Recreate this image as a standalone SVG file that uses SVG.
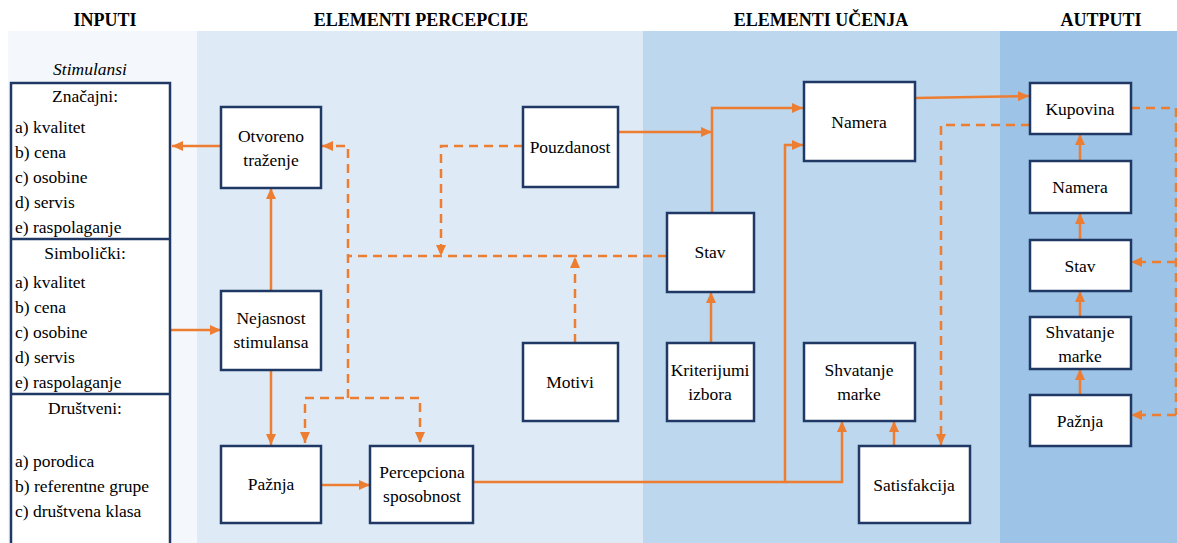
<svg xmlns="http://www.w3.org/2000/svg" width="1177" height="543" viewBox="0 0 1177 543">
  <defs>
    <marker id="arr" markerUnits="userSpaceOnUse" markerWidth="11" markerHeight="10" refX="11" refY="5" orient="auto-start-reverse">
      <path d="M0,0 L11,5 L0,10 z" fill="#ed7d31"/>
    </marker>
  </defs>
  <style>
    text { font-family: 'Liberation Serif', Tinos, 'Noto Serif', 'DejaVu Serif', serif; fill: #000; }
    .hdr { font-size: 18px; font-weight: bold; text-anchor: middle; }
    .lbl { font-size: 17.5px; text-anchor: middle; }
    .lst { font-size: 17.5px; }
    .box { fill: #fff; stroke: #1f3864; stroke-width: 2.5; }
    .ln { fill: none; stroke: #ed7d31; stroke-width: 2.5; }
    .dash { fill: none; stroke: #ed7d31; stroke-width: 2.5; stroke-dasharray: 9 6; }
    .arr { marker-end: url(#arr); }
  </style>

  <!-- background -->
  <rect x="0" y="0" width="1177" height="543" fill="#fff"/>
  <rect x="8" y="31" width="189" height="512" fill="#f4f8fc"/>
  <rect x="197" y="31" width="446" height="512" fill="#deebf7"/>
  <rect x="643" y="31" width="357" height="512" fill="#bdd7ee"/>
  <rect x="1000" y="31" width="177" height="512" fill="#9dc3e6"/>

  <!-- column headings -->
  <text class="hdr" x="105" y="26">INPUTI</text>
  <text class="hdr" x="421" y="26">ELEMENTI PERCEPCIJE</text>
  <text class="hdr" x="821" y="26">ELEMENTI UČENJA</text>
  <text class="hdr" x="1101" y="26">AUTPUTI</text>

  <!-- connectors -->
  <g id="connectors">
    <path class="ln arr" d="M221,146 H172"/>
    <path class="ln arr" d="M271,291 V188"/>
    <path class="ln arr" d="M170,330 H221"/>
    <path class="ln arr" d="M271,370 V445"/>
    <path class="ln arr" d="M320,485 H370"/>
    <path class="dash arr" d="M348,398 V146 H322"/>
    <path class="dash" d="M305,443 V398 H420 V443" marker-start="url(#arr)" marker-end="url(#arr)"/>
    <path class="dash" d="M667,256 H348"/>
    <path class="dash arr" d="M523,146 H441 V256"/>
    <path class="dash arr" d="M575,343 V257"/>
    <path class="ln arr" d="M618,132 H712"/>
    <path class="ln arr" d="M712,213 V108 H803"/>
    <path class="ln arr" d="M711,343 V292"/>
    <path class="ln arr" d="M473,482 H785 V145 H803"/>
    <path class="ln arr" d="M785,482 H842 V421"/>
    <path class="ln arr" d="M894,446 V421"/>
    <path class="ln arr" d="M915,98 L1029,96"/>
    <path class="dash arr" d="M1030,125 H941 V445"/>
    <path class="ln arr" d="M1080,161 V134"/>
    <path class="ln arr" d="M1080,240 V213"/>
    <path class="ln arr" d="M1080,317 V291"/>
    <path class="ln arr" d="M1080,395 V369"/>
    <path class="dash" d="M1131,108 H1176 V415"/>
    <path class="dash arr" d="M1176,262 H1131"/>
    <path class="dash arr" d="M1176,415 H1131"/>
  </g>

  <!-- stimulus list -->
  <g id="stimulansi">
    <text class="lbl" x="90" y="75" font-style="italic">Stimulansi</text>
    <rect class="box" x="11" y="83" width="159" height="480"/>
    <line x1="11" y1="239" x2="170" y2="239" stroke="#1f3864" stroke-width="2.5"/>
    <line x1="11" y1="394" x2="170" y2="394" stroke="#1f3864" stroke-width="2.5"/>
    <text class="lbl" x="85" y="102">Značajni:</text>
    <text class="lst" x="15" y="133">a) kvalitet</text>
    <text class="lst" x="15" y="158">b) cena</text>
    <text class="lst" x="15" y="183">c) osobine</text>
    <text class="lst" x="15" y="208">d) servis</text>
    <text class="lst" x="15" y="233">e) raspolaganje</text>
    <text class="lbl" x="85" y="259">Simbolički:</text>
    <text class="lst" x="15" y="288">a) kvalitet</text>
    <text class="lst" x="15" y="313">b) cena</text>
    <text class="lst" x="15" y="338">c) osobine</text>
    <text class="lst" x="15" y="363">d) servis</text>
    <text class="lst" x="15" y="388">e) raspolaganje</text>
    <text class="lbl" x="85" y="414">Društveni:</text>
    <text class="lst" x="15" y="467">a) porodica</text>
    <text class="lst" x="15" y="492">b) referentne grupe</text>
    <text class="lst" x="15" y="517">c) društvena klasa</text>
  </g>

  <!-- perception elements -->
  <g id="otvoreno-trazenje">
    <rect class="box" x="221" y="107" width="100" height="81"/>
    <text class="lbl" x="271" y="142">Otvoreno</text>
    <text class="lbl" x="271" y="166">traženje</text>
  </g>
  <g id="nejasnost-stimulansa">
    <rect class="box" x="221" y="291" width="100" height="79"/>
    <text class="lbl" x="271" y="324">Nejasnost</text>
    <text class="lbl" x="271" y="348">stimulansa</text>
  </g>
  <g id="paznja">
    <rect class="box" x="221" y="446" width="100" height="77"/>
    <text class="lbl" x="271" y="490">Pažnja</text>
  </g>
  <g id="percepciona-sposobnost">
    <rect class="box" x="370" y="446" width="103" height="77"/>
    <text class="lbl" x="422" y="478">Percepciona</text>
    <text class="lbl" x="422" y="502">sposobnost</text>
  </g>
  <g id="pouzdanost">
    <rect class="box" x="523" y="107" width="95" height="80"/>
    <text class="lbl" x="570" y="153">Pouzdanost</text>
  </g>
  <g id="motivi">
    <rect class="box" x="523" y="343" width="95" height="78"/>
    <text class="lbl" x="570" y="388">Motivi</text>
  </g>

  <!-- learning elements -->
  <g id="stav">
    <rect class="box" x="667" y="213" width="87" height="79"/>
    <text class="lbl" x="710" y="258">Stav</text>
  </g>
  <g id="kriterijumi-izbora">
    <rect class="box" x="667" y="343" width="87" height="78"/>
    <text class="lbl" x="710" y="376">Kriterijumi</text>
    <text class="lbl" x="710" y="400">izbora</text>
  </g>
  <g id="namera">
    <rect class="box" x="804" y="82" width="111" height="79"/>
    <text class="lbl" x="859" y="128">Namera</text>
  </g>
  <g id="shvatanje-marke">
    <rect class="box" x="804" y="343" width="111" height="78"/>
    <text class="lbl" x="859" y="376">Shvatanje</text>
    <text class="lbl" x="859" y="400">marke</text>
  </g>
  <g id="satisfakcija">
    <rect class="box" x="859" y="446" width="111" height="77"/>
    <text class="lbl" x="914" y="491">Satisfakcija</text>
  </g>

  <!-- outputs -->
  <g id="out-kupovina">
    <rect class="box" x="1030" y="83" width="101" height="51"/>
    <text class="lbl" x="1080" y="115">Kupovina</text>
  </g>
  <g id="out-namera">
    <rect class="box" x="1030" y="161" width="101" height="52"/>
    <text class="lbl" x="1080" y="193">Namera</text>
  </g>
  <g id="out-stav">
    <rect class="box" x="1030" y="240" width="101" height="51"/>
    <text class="lbl" x="1080" y="272">Stav</text>
  </g>
  <g id="out-shvatanje-marke">
    <rect class="box" x="1030" y="317" width="101" height="52"/>
    <text class="lbl" x="1080" y="338">Shvatanje</text>
    <text class="lbl" x="1080" y="362">marke</text>
  </g>
  <g id="out-paznja">
    <rect class="box" x="1030" y="395" width="101" height="51"/>
    <text class="lbl" x="1080" y="427">Pažnja</text>
  </g>
</svg>
